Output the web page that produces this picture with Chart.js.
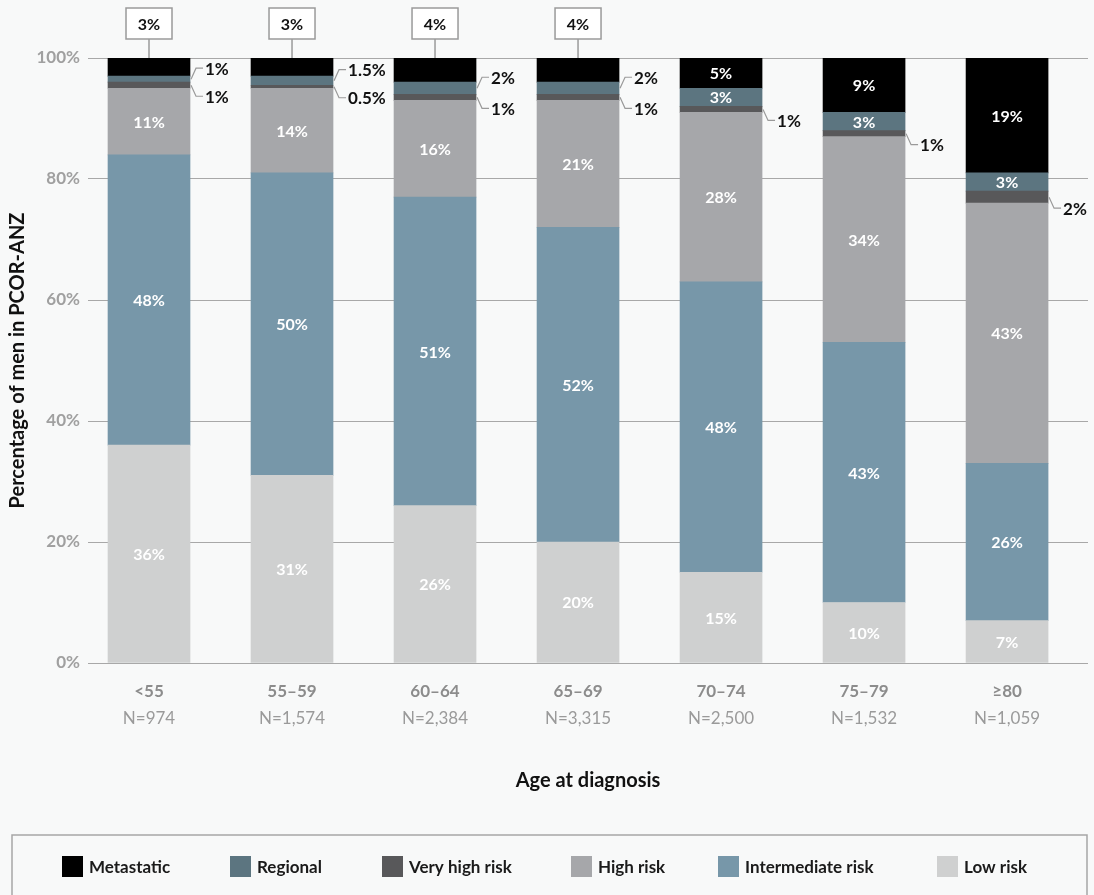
<!DOCTYPE html>
<html>
<head>
<meta charset="utf-8">
<title>Risk group by age at diagnosis</title>
<script src="https://cdn.jsdelivr.net/npm/chart.js@4.4.1/dist/chart.umd.min.js"></script>
<style>
  html, body { margin: 0; padding: 0; background: #f8f9f9; }
  #wrap { width: 1094px; height: 895px; }
</style>
</head>
<body>
<div id="wrap"><canvas id="riskChart" width="1094" height="895"></canvas></div>
<script>
// --- Data (percent of men in each age group) ---
const ageGroups = ['<55', '55–59', '60–64', '65–69', '70–74', '75–79', '≥80'];
const cohortN   = ['N=974', 'N=1,574', 'N=2,384', 'N=3,315', 'N=2,500', 'N=1,532', 'N=1,059'];

const lowRisk          = [36, 31, 26, 20, 15, 10, 7];
const intermediateRisk = [48, 50, 51, 52, 48, 43, 26];
const highRisk         = [11, 14, 16, 21, 28, 34, 43];
const veryHighRisk     = [1, 0.5, 1, 1, 1, 1, 2];
const regional         = [1, 1.5, 2, 2, 3, 3, 3];
const metastatic       = [3, 3, 4, 4, 5, 9, 19];

const yTicks = [0, 20, 40, 60, 80, 100];

// stacking order bottom -> top
const series = [
  { label: 'Low risk',          values: lowRisk,          color: '#cfd0d0' },
  { label: 'Intermediate risk', values: intermediateRisk, color: '#7797a9' },
  { label: 'High risk',         values: highRisk,         color: '#a6a7aa' },
  { label: 'Very high risk',    values: veryHighRisk,     color: '#58585a' },
  { label: 'Regional',          values: regional,         color: '#5c7580' },
  { label: 'Metastatic',        values: metastatic,       color: '#000000' },
];

// where each value label goes: in = inside bar, up/down = side callout, box = boxed above chart
const labelPlacement = {
  'Low risk':          ['in', 'in', 'in', 'in', 'in', 'in', 'in'],
  'Intermediate risk': ['in', 'in', 'in', 'in', 'in', 'in', 'in'],
  'High risk':         ['in', 'in', 'in', 'in', 'in', 'in', 'in'],
  'Very high risk':    ['down', 'down', 'down', 'down', 'down', 'down', 'down'],
  'Regional':          ['up', 'up', 'up', 'up', 'in', 'in', 'in'],
  'Metastatic':        ['box', 'box', 'box', 'box', 'in', 'in', 'in'],
};

const FONT = 'Lato, "Noto Sans", sans-serif';
const X_MIN = -0.4266, X_MAX = 6.566;

const fmt = v => v + '%';

// value labels, callouts and boxed labels
const valueLabels = {
  id: 'valueLabels',
  afterDatasetsDraw(chart) {
    const ctx = chart.ctx;
    ctx.save();
    chart.data.datasets.forEach((ds, di) => {
      const meta = chart.getDatasetMeta(di);
      const places = labelPlacement[ds.label];
      meta.data.forEach((bar, i) => {
        const text = fmt(ds.data[i].y);
        const cy = (bar.y + bar.base) / 2;
        const right = bar.x + bar.width / 2;
        const place = places[i];

        if (place === 'in') {
          ctx.font = 'bold 16px ' + FONT;
          ctx.fillStyle = '#ffffff';
          ctx.textAlign = 'center';
          ctx.textBaseline = 'middle';
          ctx.fillText(text, bar.x, cy + 1);
        } else if (place === 'up' || place === 'down') {
          const ly = cy + (place === 'up' ? -11 : 11);
          ctx.strokeStyle = '#9a9a9a';
          ctx.lineWidth = 1.2;
          ctx.beginPath();
          ctx.moveTo(right + 1, cy);
          ctx.lineTo(right + 6, ly);
          ctx.lineTo(right + 13, ly);
          ctx.stroke();
          ctx.font = 'bold 17px ' + FONT;
          ctx.fillStyle = '#111111';
          ctx.textAlign = 'left';
          ctx.textBaseline = 'middle';
          ctx.fillText(text, right + 15, ly + 1);
        } else if (place === 'box') {
          const bw = 46, bh = 31, by = 8;
          ctx.strokeStyle = '#9a9a9a';
          ctx.lineWidth = 1.5;
          ctx.beginPath();
          ctx.moveTo(bar.x, by + bh);
          ctx.lineTo(bar.x, bar.y);
          ctx.stroke();
          ctx.fillStyle = '#ffffff';
          ctx.fillRect(bar.x - bw / 2, by, bw, bh);
          ctx.strokeRect(bar.x - bw / 2, by, bw, bh);
          ctx.font = 'bold 16px ' + FONT;
          ctx.fillStyle = '#111111';
          ctx.textAlign = 'center';
          ctx.textBaseline = 'middle';
          ctx.fillText(text, bar.x, by + bh / 2 + 1);
        }
      });
    });
    ctx.restore();
  }
};

// boxed legend along the bottom
const boxLegend = {
  id: 'boxLegend',
  afterDraw(chart) {
    const ctx = chart.ctx;
    const order = [...series].reverse();
    const swatchX = [62, 230, 382, 571, 718, 937];
    ctx.save();
    ctx.strokeStyle = '#a6a6a6';
    ctx.lineWidth = 1.5;
    ctx.strokeRect(12, 835, 1075, 80);
    ctx.font = 'bold 17px ' + FONT;
    ctx.textAlign = 'left';
    ctx.textBaseline = 'middle';
    order.forEach((s, i) => {
      ctx.fillStyle = s.color;
      ctx.fillRect(swatchX[i], 856, 21, 21);
      ctx.fillStyle = '#1a1a1a';
      ctx.fillText(s.label, swatchX[i] + 27, 868);
    });
    ctx.restore();
  }
};

const fixedTicks = axis => { axis.ticks = ageGroups.map((_, i) => ({ value: i })); };

new Chart(document.getElementById('riskChart'), {
  type: 'bar',
  data: {
    datasets: series.map(s => ({
      label: s.label,
      data: s.values.map((v, i) => ({ x: i, y: v })),
      backgroundColor: s.color,
      borderWidth: 0,
      barThickness: 82,
    })),
  },
  options: {
    responsive: false,
    animation: false,
    layout: { padding: { top: 58, right: 6, bottom: 95, left: 0 } },
    plugins: { legend: { display: false }, tooltip: { enabled: false } },
    scales: {
      x: {
        type: 'linear', stacked: true, offset: false, min: X_MIN, max: X_MAX,
        afterBuildTicks: fixedTicks,
        ticks: {
          maxRotation: 0, padding: 10,
          callback: v => ageGroups[v],
          color: '#8c8c8c', font: { family: FONT, size: 17, weight: 'bold' },
        },
        grid: { display: false },
        border: { display: false },
        afterFit: axis => { axis.height = 36; },
      },
      x2: {
        type: 'linear', position: 'bottom', offset: false, min: X_MIN, max: X_MAX,
        afterBuildTicks: fixedTicks,
        ticks: {
          maxRotation: 0, padding: 1,
          callback: v => cohortN[v],
          color: '#9a9a9a', font: { family: FONT, size: 17 },
        },
        grid: { display: false },
        border: { display: false },
        title: {
          display: true, text: 'Age at diagnosis', color: '#111111',
          font: { family: FONT, size: 20, weight: 'bold' },
          padding: { top: 0, bottom: 7 },
        },
        afterFit: axis => { axis.height = 101; },
      },
      y: {
        stacked: true, min: 0, max: 100,
        afterBuildTicks: axis => { axis.ticks = yTicks.map(v => ({ value: v })); },
        ticks: {
          padding: 8,
          callback: v => v + '%',
          color: '#a0a0a0', font: { family: FONT, size: 17, weight: 'bold' },
        },
        grid: { color: '#a8a8a8', lineWidth: 1, drawTicks: false },
        border: { display: false },
        title: {
          display: true, text: 'Percentage of men in PCOR-ANZ', color: '#111111',
          font: { family: FONT, size: 20, weight: 'bold' },
          padding: { top: 6, bottom: 0 },
        },
        afterFit: axis => { axis.width = 88; },
      },
    },
  },
  plugins: [valueLabels, boxLegend],
});
</script>
</body>
</html>
